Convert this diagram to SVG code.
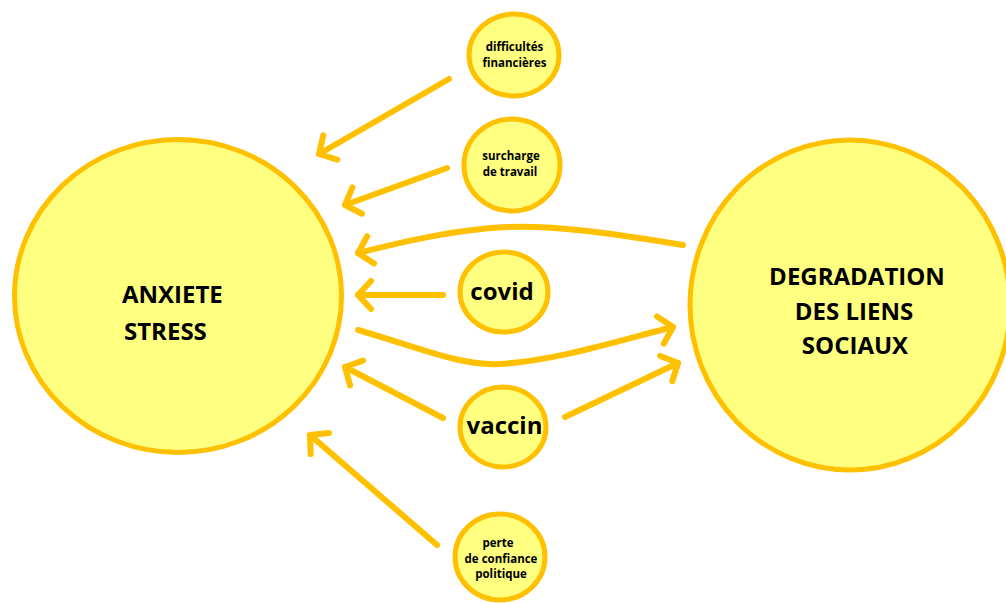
<svg xmlns="http://www.w3.org/2000/svg" width="1006" height="603" viewBox="0 0 1006 603">
<style>
.node{fill:#FFFF80;stroke:#FFC000;stroke-width:5}
.lbl{font-family:"Open Sans","Liberation Sans",sans-serif;font-weight:bold;fill:#000}
.big{font-size:24px}
.mid{font-size:24px;text-anchor:middle}
.sm{font-size:11.5px;text-anchor:middle}
.con{fill:none;stroke:#FFC000;stroke-width:6;stroke-linecap:round;marker-end:url(#ah)}
</style>
<defs>
<marker id="ah" viewBox="-20 -20 40 40" markerWidth="40" markerHeight="40" refX="0" refY="0" orient="auto" markerUnits="userSpaceOnUse" overflow="visible">
<path d="M-13,-14 L0,0 L-13,14" fill="none" stroke="#FFC000" stroke-width="6" stroke-linecap="round" stroke-linejoin="round"/>
</marker>
</defs>
<rect width="1006" height="603" fill="#fff"/>
<g id="connectors">
<path class="con" d="M449,79 L319,154"/>
<path class="con" d="M447,168 L345,205"/>
<path class="con" d="M683,245 C620,235 560,225 507,227 C460,229 410,240 358,253"/>
<path class="con" d="M443,295 L358,295"/>
<path class="con" d="M358,330 C420,348 460,366 500,364 C560,360 620,340 673,327"/>
<path class="con" d="M443,418 L345,367"/>
<path class="con" d="M565,417 L678,363"/>
<path class="con" d="M437,545 L310,435"/>
</g>
<g id="anxiete">
<ellipse class="node" cx="178" cy="296" rx="163.5" ry="156.5"/>
<text class="lbl big" x="122" y="303">ANXIETE</text>
<text class="lbl big" x="124" y="340">STRESS</text>
</g>
<g id="degradation">
<ellipse class="node" cx="850" cy="305" rx="160" ry="165"/>
<text class="lbl mid" x="857" y="285">DEGRADATION</text>
<text class="lbl mid" x="854" y="320">DES LIENS</text>
<text class="lbl mid" x="855" y="354">SOCIAUX</text>
</g>
<g id="difficultes">
<ellipse class="node" cx="514" cy="55" rx="45" ry="41"/>
<text class="lbl sm" x="514.5" y="51">difficultés</text>
<text class="lbl sm" x="514.5" y="67">financières</text>
</g>
<g id="surcharge">
<ellipse class="node" cx="512" cy="165" rx="48" ry="46"/>
<text class="lbl sm" x="511" y="160">surcharge</text>
<text class="lbl sm" x="510" y="176">de travail</text>
</g>
<g id="covid">
<ellipse class="node" cx="504" cy="292" rx="44" ry="40"/>
<text class="lbl mid" x="502" y="300">covid</text>
</g>
<g id="vaccin">
<ellipse class="node" cx="503" cy="427" rx="43" ry="40"/>
<text class="lbl mid" x="504.5" y="434">vaccin</text>
</g>
<g id="perte">
<ellipse class="node" cx="500" cy="557" rx="45" ry="43"/>
<text class="lbl sm" x="498" y="547">perte</text>
<text class="lbl sm" x="501" y="563">de confiance</text>
<text class="lbl sm" x="501" y="578">politique</text>
</g>
</svg>
